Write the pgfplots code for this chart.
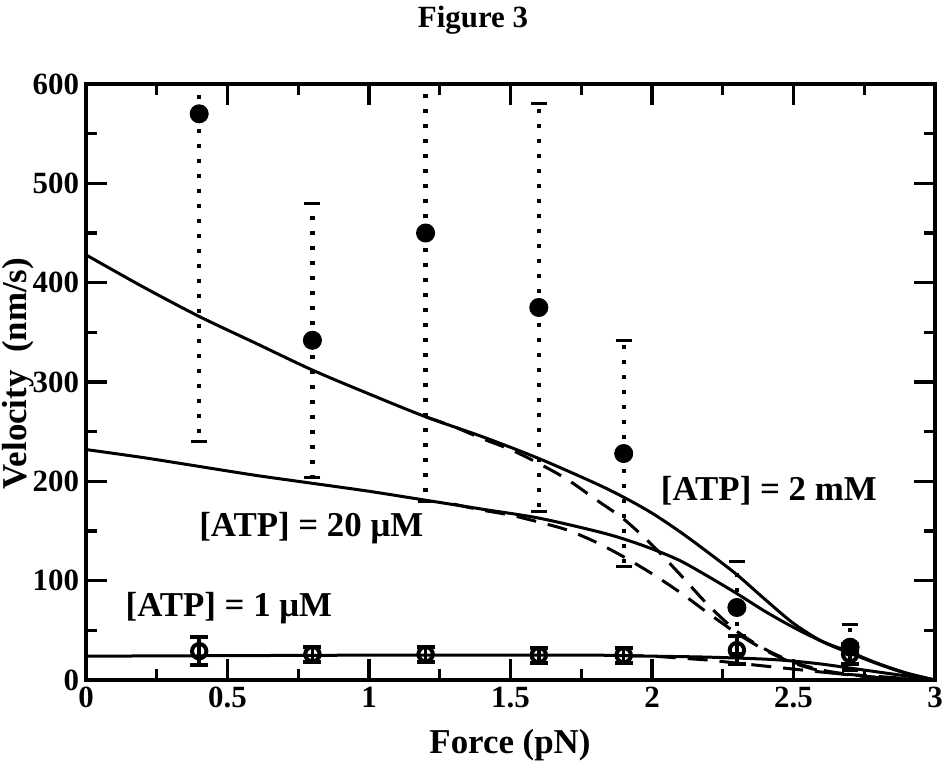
\documentclass[border=0pt]{standalone}
\usepackage{fontspec}
\setmainfont{Liberation Serif}
\usepackage{pgfplots}
\usepackage{pgfplotstable}
\pgfplotsset{compat=1.18}

\pgfplotstableread{
x y e
0.4 570 330
0.8 342 138
1.2 450 270
1.6 375 205
1.9 228 114
2.3 73 46
2.7 33 23
}\dataTwomM

\pgfplotstableread{
x y e
0.4 29 14
0.8 26 7.5
1.2 26 7.5
1.6 25 7.5
1.9 25 7.5
2.3 30 14
2.7 26 10
}\dataOneuM

\newcommand{\tfont}{\bfseries\fontsize{15.5}{18}\selectfont}
\newcommand{\lfont}{\bfseries\fontsize{17.5}{21}\selectfont}

\begin{document}
\begin{tikzpicture}
\useasboundingbox (-43bp,-43bp) rectangle (430bp,340bp);
\begin{axis}[
  at={(0,0)}, anchor=south west,
  scale only axis, width=424.5bp, height=298bp,
  xmin=0, xmax=3, ymin=0, ymax=600,
  xtick={0,0.5,1,1.5,2,2.5,3},
  xticklabels={0,0.5,1,1.5,2,2.5,3},
  ytick={0,100,200,300,400,500,600},
  yticklabels={0,100,200,300,400,500,600},
  minor x tick num=1, minor y tick num=1,
  tick align=inside,
  major tick length=10.5bp, minor tick length=5.5bp,
  axis line style={line width=1.7bp},
  tick style={line width=1.7bp, black},
  tick label style={font=\tfont},
  /pgf/number format/assume math mode=true,
]
% 2 mM solid
\addplot[line width=1.5bp, smooth] coordinates {
(0,428) (0.2,396) (0.4,366) (0.6,339) (0.8,312) (1.0,288) (1.2,265) (1.4,245) (1.6,223) (1.8,198) (1.9,184) (2.0,168) (2.1,149) (2.2,128) (2.3,106) (2.4,81) (2.5,57) (2.6,39) (2.7,27) (2.8,16) (2.9,6.5) (3.0,0)};
% 2 mM dashed
\addplot[line width=1.5bp, smooth, dash pattern=on 10bp off 6bp] coordinates {
(1.2,265) (1.3,255) (1.4,243) (1.5,232) (1.6,218) (1.7,202) (1.8,182) (1.9,162) (2.0,136) (2.1,106) (2.2,75) (2.3,49) (2.4,31) (2.5,18) (2.6,10) (2.7,5.5) (2.8,2.5) (2.9,1) (3.0,0)};
% 20 uM solid
\addplot[line width=1.5bp, smooth] coordinates {
(0,232) (0.2,224) (0.4,215) (0.6,206) (0.8,198) (1.0,190) (1.2,181) (1.4,172) (1.6,163) (1.8,150) (1.9,142) (2.0,132) (2.1,120) (2.2,104) (2.3,87) (2.4,69) (2.5,53) (2.6,39) (2.7,28) (2.8,16.5) (2.9,7) (3.0,0)};
% 20 uM dashed
\addplot[line width=1.5bp, smooth, dash pattern=on 10bp off 6bp] coordinates {
(1.3,177) (1.4,171) (1.5,166) (1.6,159) (1.7,151) (1.8,139) (1.9,124) (2.0,107) (2.1,88) (2.2,67) (2.3,47) (2.4,30) (2.5,17) (2.6,9) (2.7,5) (2.8,2.5) (2.9,1) (3.0,0)};
% 1 uM solid
\addplot[line width=1.5bp, smooth] coordinates {
(0,24) (0.5,24.5) (1.0,25) (1.5,25) (1.8,25) (2.0,24) (2.2,23) (2.4,21) (2.5,19) (2.6,16) (2.7,12) (2.8,8) (2.9,4) (3.0,0)};
% 1 uM dashed
\addplot[line width=1.5bp, smooth, dash pattern=on 10bp off 6bp] coordinates {
(1.9,24.5) (2.0,24) (2.1,22) (2.2,20) (2.3,17) (2.4,14) (2.5,11) (2.6,8) (2.7,5.5) (2.8,3.5) (2.9,1.5) (3.0,0)};
% 2 mM data
\addplot[only marks, mark=*, mark size=4.5bp, mark options={solid, fill=black, line width=0.5bp},
  error bars/.cd, y dir=both, y explicit,
  error bar style={line width=2.2bp, dash pattern=on 2bp off 5.5bp},
  error mark options={rotate=90, mark size=4bp, line width=1.6bp, solid}]
  table[x=x, y=y, y error=e] {\dataTwomM};
% 1 uM data
\addplot[only marks, mark=o, mark size=3.6bp, mark options={solid, line width=2bp},
  error bars/.cd, y dir=both, y explicit,
  error bar style={line width=1.7bp, solid},
  error mark options={rotate=90, mark size=4.5bp, line width=2bp}]
  table[x=x, y=y, y error=e] {\dataOneuM};
\node[font=\lfont] at (axis cs:2.413,191) {[ATP] = 2 mM};
\node[font=\lfont] at (axis cs:0.796,153) {[ATP] = 20 μM};
\node[font=\lfont] at (axis cs:0.505,72) {[ATP] = 1 μM};
\end{axis}
\node[font=\lfont, rotate=90] at (-34bp,153.2bp) {Velocity\ \ (nm/s)};
\node[font=\lfont] at (212bp,-32.5bp) {Force (pN)};
\node[font=\tfont] at (193.5bp,330bp) {Figure 3};
\end{tikzpicture}
\end{document}
